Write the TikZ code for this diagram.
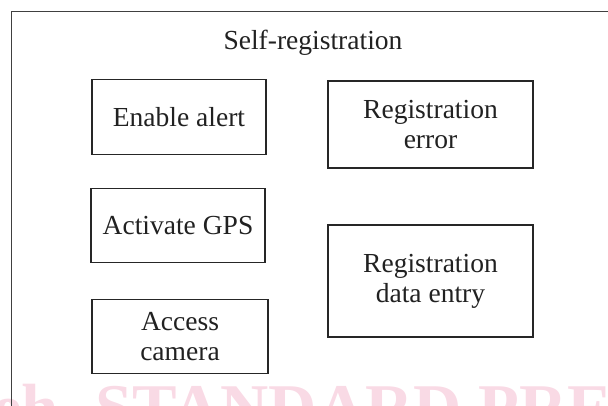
\documentclass[tikz,border=0pt]{standalone}
\usepackage{fontspec}
\setmainfont{Liberation Serif}
\begin{document}
\begin{tikzpicture}[
  boxtext/.style={font=\fontsize{23.5}{25.6}\selectfont, text=black!87},
  taskbox/.style={draw=black!85, line width=0.9pt, boxtext, align=center, inner sep=0pt, minimum width=5.22cm, minimum height=2.24cm},
  widebox/.style={taskbox, minimum width=6.15cm}]
  \definecolor{watermark}{RGB}{249,218,229}
  \useasboundingbox (0,0) rectangle (18.24,12.18);
  \clip (0,0) rectangle (18.24,12.18);

  % watermark
  \node[anchor=base west, inner sep=0pt, text=watermark, font=\fontsize{57}{57}\selectfont\bfseries] (wm) at (-1.95,-0.75) {iTeh\hspace{0.3em} STANDARD PREVIEW};

  % frame
  \draw[black!75, line width=0.8pt] (0.33,-1) -- (0.33,11.85) -- (19,11.85);
  \node[boxtext, anchor=base] (title) at (9.39,10.68) {Self-registration};

  % left column
  \node[taskbox] (alert) at (5.37,8.67) {Enable alert};
  \node[taskbox] (gps) at (5.34,5.415) {Activate GPS};
  \node[taskbox, minimum width=5.28cm] (camera) at (5.40,2.085) {Access\\camera};

  % right column
  \node[widebox, minimum height=2.61cm] (error) at (12.915,8.445) {Registration\\error};
  \node[widebox, minimum height=3.36cm] (entry) at (12.915,3.75) {Registration\\data entry};
\end{tikzpicture}
\end{document}
